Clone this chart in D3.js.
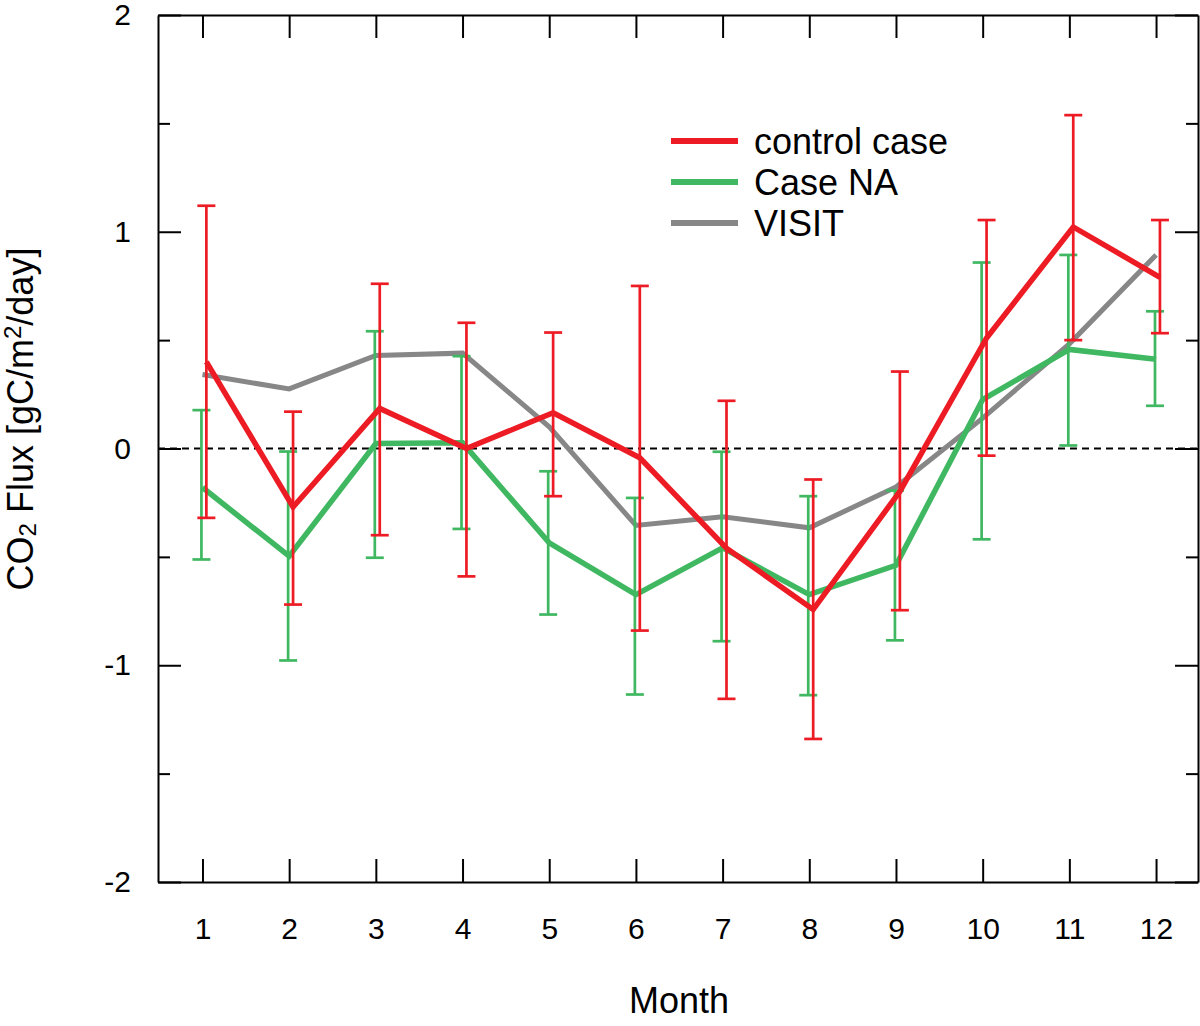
<!DOCTYPE html>
<html>
<head>
  <meta charset="utf-8">
  <title>CO2 Flux by month</title>
  <style>
  body { margin: 0; background: #fff; }
  svg { display: block; font-family: "Liberation Sans", Arial, sans-serif; }
  .axis path, .axis line { stroke: #000; stroke-width: 2; }
  .axis text { fill: #000; }
  </style>
</head>
<body>
  <svg width="1200" height="1026"></svg>
  <script src="https://d3js.org/d3.v7.min.js"></script>
  <script>
  // data
  var months = [1, 2, 3, 4, 5, 6, 7, 8, 9, 10, 11, 12];
  var controlCase = [0.40, -0.27, 0.185, 0.0, 0.165, -0.043, -0.46, -0.743, -0.198, 0.51, 1.022, 0.79];
  var controlHigh = [1.12, 0.17, 0.76, 0.58, 0.535, 0.75, 0.22, -0.143, 0.355, 1.054, 1.538, 1.054];
  var controlLow  = [-0.32, -0.72, -0.40, -0.59, -0.22, -0.84, -1.155, -1.34, -0.746, -0.033, 0.50, 0.532];
  var caseNA     = [-0.18, -0.497, 0.023, 0.026, -0.435, -0.674, -0.458, -0.674, -0.539, 0.226, 0.457, 0.412];
  var caseNAHigh = [0.177, -0.014, 0.541, 0.426, -0.105, -0.228, -0.015, -0.22, -0.194, 0.858, 0.893, 0.633];
  var caseNALow  = [-0.512, -0.978, -0.504, -0.371, -0.766, -1.135, -0.889, -1.138, -0.885, -0.419, 0.014, 0.197];
  var visit = [0.341, 0.275, 0.429, 0.44, 0.10, -0.355, -0.315, -0.366, -0.178, 0.14, 0.483, 0.893];
  var yMajor = [-2, -1, 0, 1, 2];
  var yMinor = [-1.5, -0.5, 0.5, 1.5];
  var legendNames = ["control case", "Case NA", "VISIT"];

  var red = "#ed1c24", green = "#40b862", grey = "#878787";

  var svg = d3.select("svg");
  var plotLeft = 158, plotRight = 1198, plotTop = 15, plotBottom = 882;

  var x = d3.scaleLinear().domain([0.487, 12.484]).range([plotLeft, plotRight]);
  var y = d3.scaleLinear().domain([-2, 2]).range([plotBottom, plotTop]);

  // axes: ticks point inward on all four sides
  svg.append("g").attr("class", "axis")
    .attr("transform", "translate(0," + plotBottom + ")")
    .call(d3.axisBottom(x).tickValues(months).tickSize(-23).tickSizeOuter(0).tickPadding(36))
    .selectAll("text").style("font-size", "30px");

  svg.append("g").attr("class", "axis")
    .attr("transform", "translate(0," + plotTop + ")")
    .call(d3.axisTop(x).tickValues(months).tickSize(-23).tickSizeOuter(0).tickFormat(""));

  // plain hyphen for negatives, as in the original
  svg.append("g").attr("class", "axis")
    .attr("transform", "translate(" + plotLeft + ",0)")
    .call(d3.axisLeft(y).tickValues(yMajor).tickSize(-23).tickSizeOuter(0).tickPadding(27)
      .tickFormat(function(d) { return String(d); }))
    .selectAll("text").style("font-size", "30px");

  svg.append("g").attr("class", "axis")
    .attr("transform", "translate(" + plotLeft + ",0)")
    .call(d3.axisLeft(y).tickValues(yMinor).tickSize(-12).tickSizeOuter(0).tickFormat(""))
    .select(".domain").remove();

  svg.append("g").attr("class", "axis")
    .attr("transform", "translate(" + plotRight + ",0)")
    .call(d3.axisRight(y).tickValues(yMajor).tickSize(-23).tickSizeOuter(0).tickFormat(""));

  svg.append("g").attr("class", "axis")
    .attr("transform", "translate(" + plotRight + ",0)")
    .call(d3.axisRight(y).tickValues(yMinor).tickSize(-12).tickSizeOuter(0).tickFormat(""))
    .select(".domain").remove();

  // zero line
  svg.append("line")
    .attr("x1", x(0.487)).attr("x2", x(12.484))
    .attr("y1", y(0)).attr("y2", y(0))
    .attr("stroke", "#000").attr("stroke-width", 1.8)
    .attr("stroke-dasharray", "7,5");

  function errorBars(lo, hi, color, shift) {
    var g = svg.append("g").attr("stroke", color).attr("stroke-width", 2.7).attr("fill", "none");
    months.forEach(function(m, i) {
      var cx = x(m + shift);
      g.append("line").attr("x1", cx).attr("x2", cx).attr("y1", y(lo[i])).attr("y2", y(hi[i]));
      g.append("line").attr("x1", cx - 9).attr("x2", cx + 9).attr("y1", y(lo[i])).attr("y2", y(lo[i]));
      g.append("line").attr("x1", cx - 9).attr("x2", cx + 9).attr("y1", y(hi[i])).attr("y2", y(hi[i]));
    });
  }

  function seriesLine(vals, color, width, shift) {
    var line = d3.line()
      .x(function(d, i) { return x(months[i] + shift); })
      .y(function(d) { return y(d); });
    svg.append("path")
      .datum(vals)
      .attr("fill", "none")
      .attr("stroke", color)
      .attr("stroke-width", width)
      .attr("stroke-linejoin", "miter")
      .attr("d", line);
  }

  seriesLine(visit, grey, 5, 0);
  errorBars(caseNALow, caseNAHigh, green, -0.012);
  seriesLine(caseNA, green, 5.5, 0);
  errorBars(controlLow, controlHigh, red, 0.045);
  seriesLine(controlCase, red, 5.5, 0.045);

  // legend
  var legendColors = [red, green, grey];
  var lg = svg.append("g");
  legendNames.forEach(function(name, i) {
    var ly = 141 + i * 41;
    lg.append("line").attr("x1", 671).attr("x2", 738).attr("y1", ly).attr("y2", ly)
      .attr("stroke", legendColors[i]).attr("stroke-width", 6);
    lg.append("text").attr("x", 754).attr("y", ly + 13)
      .style("font-size", "36px").text(name);
  });

  // axis titles
  svg.append("text")
    .attr("x", 679).attr("y", 1013)
    .attr("text-anchor", "middle")
    .style("font-size", "36px")
    .text("Month");

  var yt = svg.append("text")
    .attr("transform", "translate(33,419) rotate(-90)")
    .attr("text-anchor", "middle")
    .style("font-size", "36px");
  yt.append("tspan").text("CO");
  yt.append("tspan").attr("dy", 3).style("font-size", "24px").text("2");
  yt.append("tspan").attr("dy", -3).text(" Flux [gC/m");
  yt.append("tspan").attr("dy", -12).style("font-size", "24px").text("2");
  yt.append("tspan").attr("dy", 12).text("/day]");
  </script>
</body>
</html>
